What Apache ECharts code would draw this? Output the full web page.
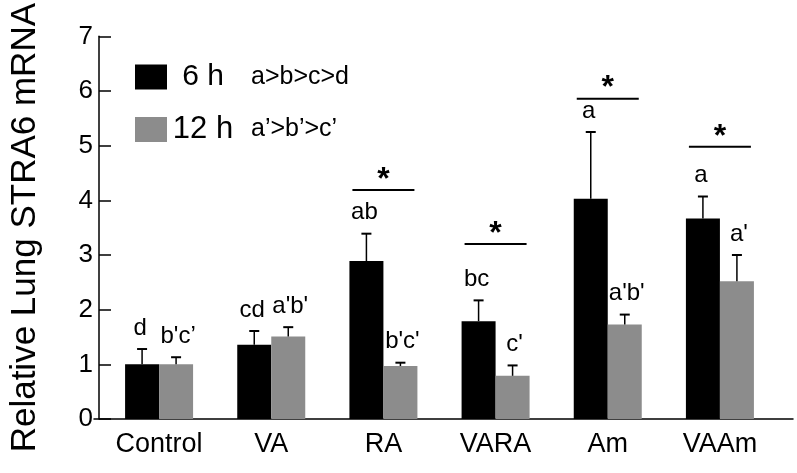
<!DOCTYPE html>
<html>
<head>
<meta charset="utf-8">
<script src="https://cdn.jsdelivr.net/npm/echarts@6/dist/echarts.min.js"></script>
<style>
html,body{margin:0;padding:0;background:#fff;}
#chart{width:797px;height:473px;}
</style>
</head>
<body>
<div id="chart"></div>
<script>
// ---- data ----
const categories = ['Control', 'VA', 'RA', 'VARA', 'Am', 'VAAm'];
const mean6h  = [1.00, 1.36, 2.89, 1.79, 4.03, 3.67];
const sd6h    = [0.28, 0.25, 0.50, 0.38, 1.22, 0.40];
const mean12h = [1.00, 1.51, 0.97, 0.79, 1.73, 2.52];
const sd12h   = [0.13, 0.17, 0.06, 0.19, 0.18, 0.48];
const letters6h  = ['d', 'cd', 'ab', 'bc', 'a', 'a'];
const letters12h = ["b'c\u2019", "a'b'", "b'c'", "c'", "a'b'", "a'"];
const sigLevel = [null, null, 4.19, 3.2, 5.86, 4.98];
const yTicks = [0, 1, 2, 3, 4, 5, 6, 7];

// ---- styles ----
const BAR_W = 34;
const FONT = 'Liberation Sans, Arial, Helvetica, sans-serif';
const BLACK = '#000000';
const GRAY = '#8c8c8c';

function errRender(sign, letters) {
  return function (params, api) {
    const i = api.value(0);
    const m = api.value(1);
    const top = api.value(2);
    const p0 = api.coord([i, m]);
    const p1 = api.coord([i, top]);
    const x = p0[0] + sign * BAR_W / 2;
    return {
      type: 'group',
      children: [
        { type: 'line', shape: { x1: x, y1: p0[1], x2: x, y2: p1[1] },
          style: { stroke: '#000', lineWidth: 1.5 } },
        { type: 'line', shape: { x1: x - 5, y1: p1[1], x2: x + 5, y2: p1[1] },
          style: { stroke: '#000', lineWidth: 2 } },
        { type: 'text', style: { text: letters[i], x: x + sign * 2, y: p1[1] - 21,
          align: 'center', verticalAlign: 'middle', fontSize: 24,
          fontFamily: FONT, fill: '#000' } }
      ]
    };
  };
}

function sigRender(params, api) {
  const i = api.value(0);
  const lv = api.value(1);
  const p = api.coord([i, lv]);
  return {
    type: 'group',
    children: [
      { type: 'line', shape: { x1: p[0] - 31, y1: p[1], x2: p[0] + 31, y2: p[1] },
        style: { stroke: '#000', lineWidth: 2 } },
      { type: 'text', style: { text: '*', x: p[0], y: p[1] - 10,
        align: 'center', verticalAlign: 'middle', fontSize: 32, fontWeight: 'bold',
        fontFamily: FONT, fill: '#000' } }
    ]
  };
}

const err6 = mean6h.map((v, i) => [i, v, v + sd6h[i]]);
const err12 = mean12h.map((v, i) => [i, v, v + sd12h[i]]);
const sigData = [];
sigLevel.forEach((v, i) => { if (v !== null) sigData.push([i, v]); });

const chart = echarts.init(document.getElementById('chart'), null, { renderer: 'canvas' });
chart.setOption({
  animation: false,
  backgroundColor: '#fff',
  textStyle: { fontFamily: FONT },
  legend: {
    data: ['6 h', '12 h'],
    left: 130, top: 57,
    orient: 'vertical',
    icon: 'rect',
    itemWidth: 32, itemHeight: 25,
    itemGap: 22,
    selectedMode: false,
    formatter: function (name) {
      return name === '6 h' ? '{n|6 h}{s|a>b>c>d}' : '{m|12 h}{s|a\u2019>b\u2019>c\u2019}';
    },
    textStyle: {
      color: '#000',
      rich: {
        n: { fontSize: 30, width: 62, align: 'right', color: '#000', fontFamily: FONT },
        m: { fontSize: 31, width: 62, align: 'right', color: '#000', fontFamily: FONT },
        s: { fontSize: 25, padding: [0, 0, 0, 17], color: '#000', fontFamily: FONT }
      }
    }
  },
  grid: [
    { left: 98, right: 21, top: 29, bottom: 54, containLabel: false },
    { left: 94, right: 4, top: 29, bottom: 54, containLabel: false }
  ],
  xAxis: [
    {
      type: 'category', data: categories, gridIndex: 0,
      axisLine: { show: false },
      axisTick: { show: false },
      axisLabel: { color: '#000', fontSize: 27, margin: 12, fontFamily: FONT,
        interval: 0, hideOverlap: false }
    },
    {
      type: 'value', gridIndex: 1, min: 0, max: 1,
      axisLine: { show: true, lineStyle: { color: '#000', width: 1.5 } },
      axisTick: { show: false }, axisLabel: { show: false }, splitLine: { show: false }
    }
  ],
  yAxis: [
    {
      type: 'value', gridIndex: 0, min: yTicks[0], max: yTicks[yTicks.length - 1], interval: 1,
      offset: 4,
      name: 'Relative Lung STRA6 mRNA',
      nameLocation: 'middle', nameGap: 56,
      nameTextStyle: { fontSize: 35, color: '#000', fontFamily: FONT },
      axisLine: { show: true, lineStyle: { color: '#000', width: 1.5 } },
      axisTick: { show: true, inside: true, length: 12, lineStyle: { color: '#000', width: 1.5 } },
      axisLabel: { color: '#000', fontSize: 26, margin: 6, fontFamily: FONT },
      splitLine: { show: false }
    },
    { type: 'value', gridIndex: 1, show: false, min: 0, max: 1 }
  ],
  series: [
    { name: '6 h', type: 'bar', data: mean6h, barWidth: BAR_W, barGap: '0%',
      itemStyle: { color: BLACK } },
    { name: '12 h', type: 'bar', data: mean12h, barWidth: BAR_W, barGap: '0%',
      itemStyle: { color: GRAY } },
    { name: 'err6', type: 'custom', data: err6, renderItem: errRender(-1, letters6h),
      encode: { x: 0, y: [1, 2] }, z: 3 },
    { name: 'err12', type: 'custom', data: err12, renderItem: errRender(1, letters12h),
      encode: { x: 0, y: [1, 2] }, z: 3 },
    { name: 'sig', type: 'custom', data: sigData, renderItem: sigRender,
      encode: { x: 0, y: 1 }, z: 3 }
  ]
});
</script>
</body>
</html>
